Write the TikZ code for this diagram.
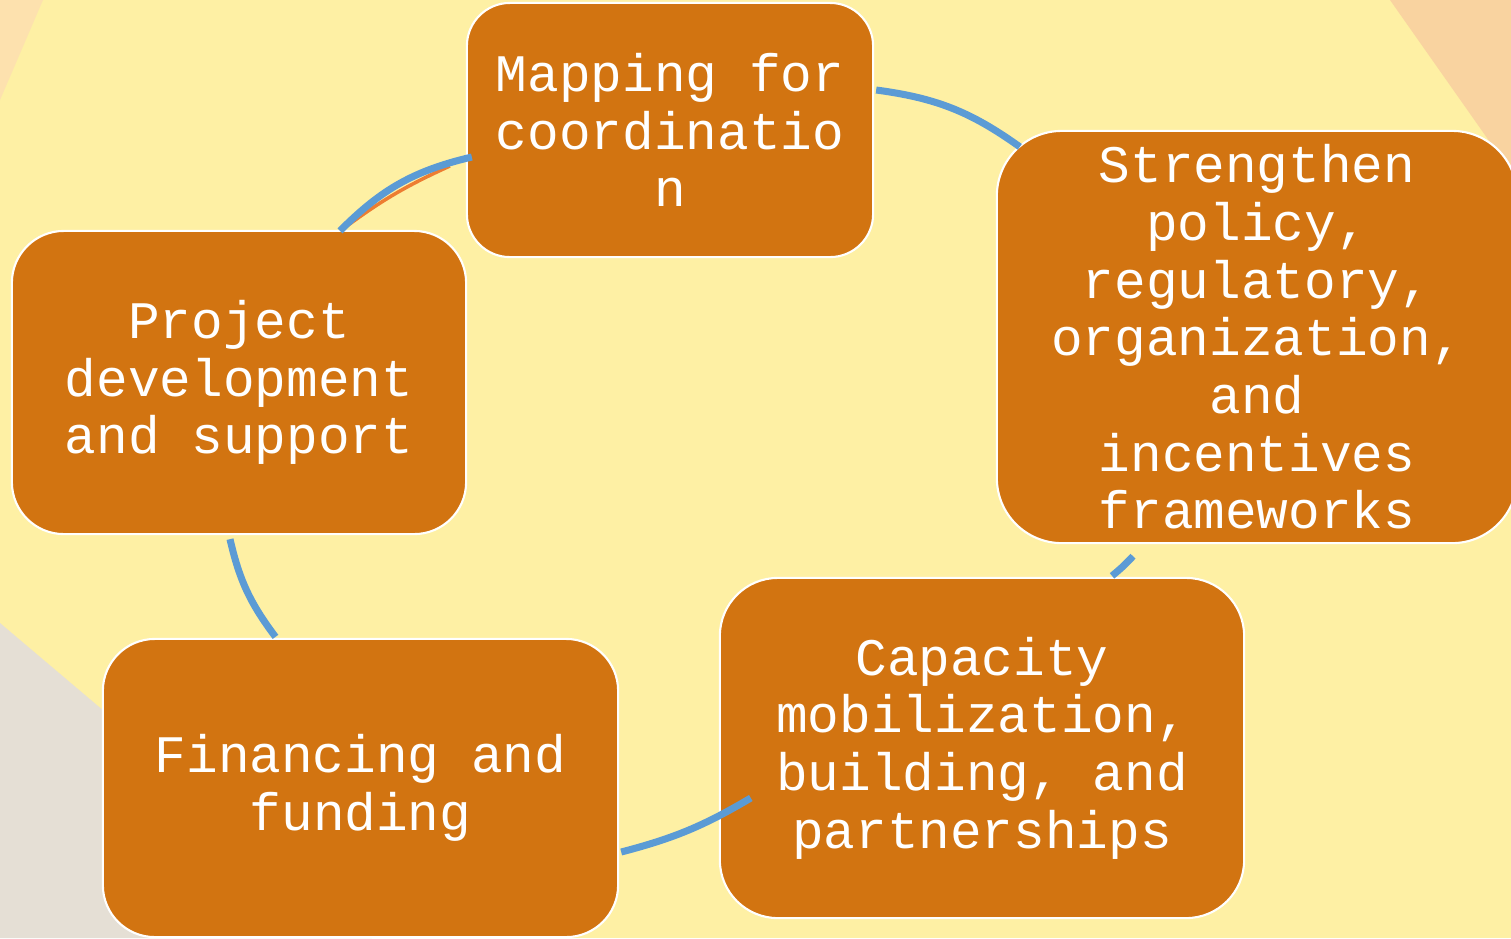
\documentclass[tikz,border=0pt]{standalone}
\usepackage{fontspec}
\usepackage{xcolor}
\usepackage{tikz}
\usetikzlibrary{calc}

\newfontfamily\stagefont{Liberation Mono}

\definecolor{bgyellow}{HTML}{FEF0A4}
\definecolor{peachleft}{HTML}{FDE1AE}
\definecolor{peachright}{HTML}{F9D3A0}
\definecolor{greycorner}{HTML}{E5DFD5}
\definecolor{boxorange}{HTML}{D27411}
\definecolor{loopblue}{HTML}{5B9BD5}
\definecolor{sliverorange}{HTML}{ED7D31}

\begin{document}
\begin{tikzpicture}[x=0.01cm, y=-0.01cm,
        stage/.style={draw=white, line width=0.6pt, fill=boxorange, text=white,
            align=center, inner sep=0pt,
            font=\stagefont\fontsize{15}{16.4}\selectfont},
        loopline/.style={draw=loopblue, line width=2pt}]

        % one unit is one pixel of the picture, y grows downwards
        \useasboundingbox (0,0) rectangle (1511,938);
        \fill[bgyellow] (0,0) rectangle (1511,938);

        % the pale shapes in three corners
        \fill[peachleft] (0,0) -- (43,0) -- (0,100) -- cycle;
        \fill[peachright] (1390,0) -- (1511,0) -- (1511,172) -- cycle;
        \fill[greycorner] (0,623) -- (372,938) -- (0,938) -- cycle;

        % the five stages of the cycle
        \node[stage, minimum width=4.06cm, minimum height=2.54cm, rounded corners=0.43cm]
            (map) at (670,130) {Mapping for\\coordinatio\\n};
        \node[stage, minimum width=5.20cm, minimum height=4.12cm, rounded corners=0.65cm]
            (str) at (1257,337) {Strengthen\\policy,\\regulatory,\\organization,\\and\\incentives\\frameworks};
        \node[stage, minimum width=5.24cm, minimum height=3.40cm, rounded corners=0.58cm]
            (cap) at (982,748) {Capacity\\mobilization,\\building, and\\partnerships};
        \node[stage, minimum width=5.15cm, minimum height=2.98cm, rounded corners=0.52cm]
            (fin) at (360.5,788) {Financing and\\funding};
        \node[stage, minimum width=4.54cm, minimum height=3.03cm, rounded corners=0.52cm]
            (prj) at (239,382.5) {Project\\development\\and support};

        % the arcs go round clockwise, so they all bend left
        \draw[loopline] ($(map.east)+(2,-40)$) to[bend left=14] ($(str.north west)+(24,17)$);
        \draw[loopline] ($(str.south)+(-124,12)$) to[bend left=4] ($(cap.north)+(130,-1)$);
        \draw[loopline] ($(cap.west)+(32,50)$) to[bend left=8] ($(fin.east)+(2,64)$);
        \draw[loopline] ($(fin.north)+(-85,-1)$) to[bend left=12] ($(prj.south)+(-9,4)$);
        % a thin orange line shows just below the last arc
        \draw[draw=sliverorange, line width=1pt] ($(prj.north)+(104,-1)$) to[bend left=6] ($(map.west)+(-16,36)$);
        \draw[loopline] ($(prj.north)+(101,1)$) to[bend left=16] ($(map.west)+(6,27)$);
\end{tikzpicture}
\end{document}
